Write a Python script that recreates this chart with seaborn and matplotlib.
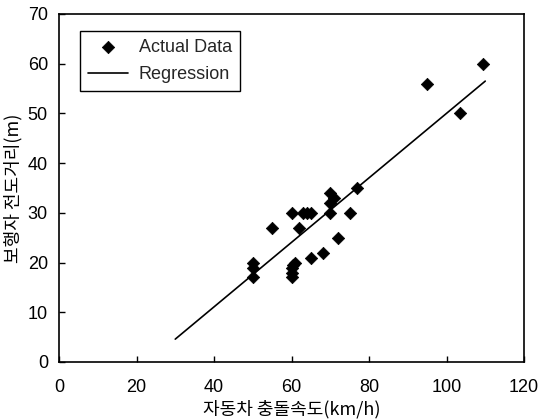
import matplotlib
matplotlib.use("Agg")
import matplotlib.pyplot as plt
import seaborn as sns
import pandas as pd

speed = [50, 50, 50, 55, 60, 60, 60, 60, 60.5, 61, 62, 63, 64, 65, 65, 68,
         70, 70, 71, 70, 72, 75, 77, 95, 103.5, 109.5]
distance = [20, 19, 17, 27, 30, 19, 18, 17, 19.6, 20, 27, 30, 30, 30, 21, 22,
            34, 32, 33, 30, 25, 30, 35, 56, 50, 60]
reg_x = [30, 110]
reg_y = [4.6, 56.5]

x_ticks = [0, 20, 40, 60, 80, 100, 120]
y_ticks = [0, 10, 20, 30, 40, 50, 60, 70]

sns.set_theme(style="white")
plt.rcParams['font.family'] = ['Liberation Sans', 'Noto Sans CJK KR', 'DejaVu Sans']

fig = plt.figure(figsize=(5.42, 4.2), dpi=100)
ax = fig.add_axes([59/542, 1 - 362/420, 465/542, 348/420])

df = pd.DataFrame({"x": speed, "y": distance})
sns.lineplot(x=reg_x, y=reg_y, ax=ax, color="black", linewidth=1.2, label="Regression")
sns.scatterplot(data=df, x="x", y="y", ax=ax, marker="D", s=40, color="black",
                edgecolor="black", linewidth=0.5, label="Actual Data", zorder=3)

ax.set_xlim(0, 120)
ax.set_ylim(0, 70)
ax.set_xticks(x_ticks)
ax.set_yticks(y_ticks)
ax.tick_params(direction="in", length=4, width=1, color="black", labelsize=13,
               labelcolor="black", bottom=True, left=True)
ax.tick_params(axis="x", pad=12)
ax.tick_params(axis="y", pad=8)
for s in ax.spines.values():
    s.set_color("black")
    s.set_linewidth(1.2)

ax.set_xlabel("자동차 충돌속도(km/h)", fontsize=13, color="black",
              family=['Noto Sans CJK KR', 'DejaVu Sans'], labelpad=3)
ax.set_ylabel("보행자 전도거리(m)", fontsize=13, color="black",
              family=['Noto Sans CJK KR', 'DejaVu Sans'], labelpad=4)

handles, labels = ax.get_legend_handles_labels()
order = [labels.index("Actual Data"), labels.index("Regression")]
leg = ax.legend([handles[i] for i in order], [labels[i] for i in order],
                loc="upper left", bbox_to_anchor=(0.045, 0.951), fontsize=13,
                frameon=True, fancybox=False, edgecolor="black", framealpha=1,
                handlelength=2.2, borderpad=0.45, labelspacing=0.55,
                borderaxespad=0, handletextpad=0.6)
leg.get_frame().set_linewidth(1.0)

fig.savefig("out.png", dpi=100)
